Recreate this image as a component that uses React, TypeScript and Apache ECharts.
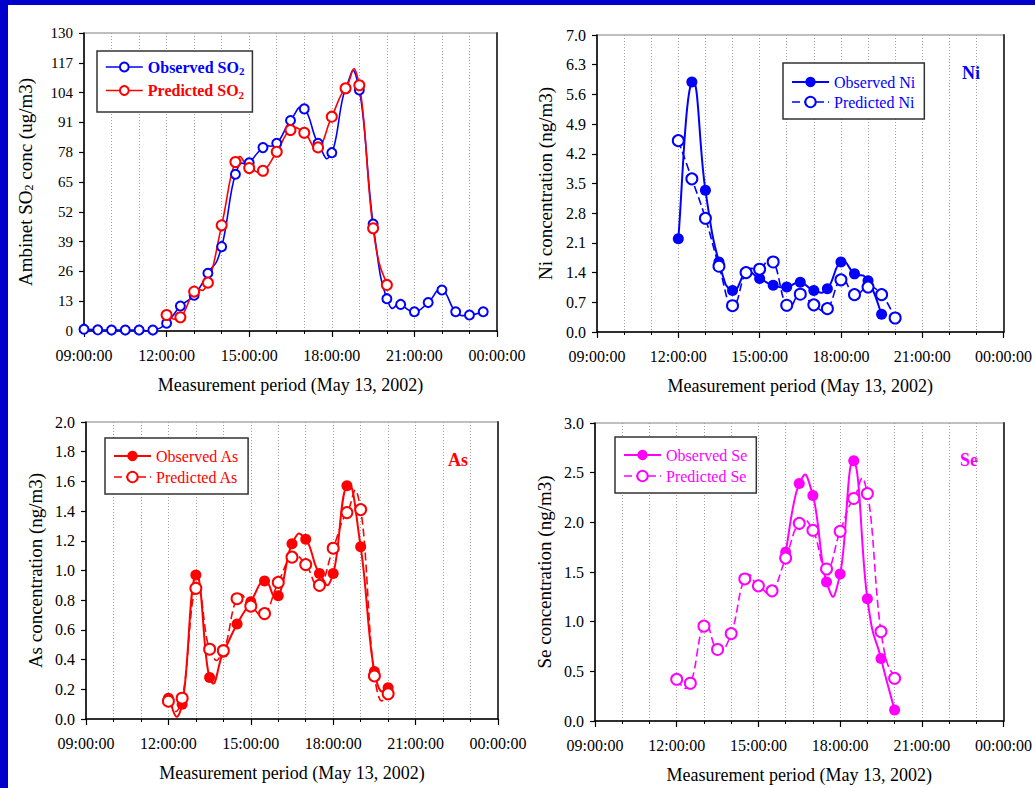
import React, { useEffect, useRef } from "react";
import * as echarts from "echarts";

// ---------- data ----------
const so2Times = [
  "09:00", "09:30", "10:00", "10:30", "11:00", "11:30", "12:00", "12:30", "13:00", "13:30",
  "14:00", "14:30", "15:00", "15:30", "16:00", "16:30", "17:00", "17:30", "18:00", "18:30",
  "19:00", "19:30", "20:00", "20:30", "21:00", "21:30", "22:00", "22:30", "23:00", "23:30",
];
const so2Observed = [
  0.8, 0.5, 0.4, 0.4, 0.4, 0.4, 3.4, 10.9, 15.6, 25.2,
  36.8, 68.4, 73.4, 80.0, 81.9, 91.8, 96.9, 81.9, 77.8, 105.7,
  105.1, 46.7, 14.1, 11.6, 8.4, 12.4, 17.9, 8.4, 7.0, 8.4,
];
const fullTimes = [
  "12:00", "12:30", "13:00", "13:30", "14:00", "14:30", "15:00", "15:30", "16:00",
  "16:30", "17:00", "17:30", "18:00", "18:30", "19:00", "19:30", "20:00",
];
const so2Predicted = [7.0, 6.0, 17.2, 21.1, 46.1, 73.7, 71.1, 69.9, 78.2, 87.7, 86.5, 80.1, 93.5, 105.9, 107.2, 44.8, 20.1];

const niObservedTimes = fullTimes.slice(0, 16);
const niObserved = [2.2, 5.89, 3.34, 1.65, 0.98, 1.39, 1.26, 1.1, 1.06, 1.17, 0.98, 1.02, 1.65, 1.37, 1.21, 0.42];
const niPredicted = [4.51, 3.61, 2.68, 1.55, 0.62, 1.4, 1.48, 1.65, 0.63, 0.89, 0.64, 0.55, 1.23, 0.88, 1.06, 0.88, 0.33];

const asObserved = [0.14, 0.1, 0.97, 0.28, 0.45, 0.64, 0.79, 0.93, 0.83, 1.18, 1.21, 0.98, 0.98, 1.57, 1.16, 0.32, 0.21];
const asPredicted = [0.12, 0.14, 0.88, 0.47, 0.46, 0.81, 0.76, 0.71, 0.92, 1.09, 1.04, 0.9, 1.15, 1.39, 1.41, 0.29, 0.17];

const seObservedTimes = fullTimes.slice(8);
const seObserved = [1.7, 2.39, 2.27, 1.4, 1.48, 2.62, 1.23, 0.63, 0.11];
const sePredicted = [0.42, 0.38, 0.955, 0.72, 0.88, 1.43, 1.36, 1.31, 1.64, 1.99, 1.92, 1.53, 1.91, 2.24, 2.29, 0.9, 0.43];

const xTitle = "Measurement period (May 13, 2002)";

// ---------- helpers ----------
const FONT = '"Liberation Serif", "Times New Roman", Times, serif';
const BLUE = "#0000ff";
const RED = "#ff0000";
const MAGENTA = "#ff00ff";

const toHours = (t: string) => {
  const [h, m] = t.split(":").map(Number);
  return h + m / 60;
};
const pairs = (times: string[], vals: number[]) => vals.map((v, i) => [toHours(times[i]), v]);
const timeLabel = (v: number) => String(Math.round(v) % 24).padStart(2, "0") + ":00:00";

const grids = [
  { left: 84, top: 33, width: 413, height: 298 },
  { left: 597, top: 35, width: 412, height: 297 },
  { left: 86, top: 422, width: 412, height: 297 },
  { left: 595, top: 423, width: 413, height: 298 },
];

const yConf = [
  { max: 130, interval: 13, digits: 0, name: "Ambinet SO{sub|2} conc (ug/m3)", gap: 49, size: 15 },
  { max: 7, interval: 0.7, digits: 1, name: "Ni concentration (ng/m3)", gap: 42, size: 16 },
  { max: 2, interval: 0.2, digits: 1, name: "As concentration (ng/m3)", gap: 41, size: 16 },
  { max: 3, interval: 0.5, digits: 1, name: "Se concentration (ng/m3)", gap: 41, size: 16 },
];

const subRich = {
  sub: { fontSize: 11, verticalAlign: "bottom", padding: [8, 0, 0, 0] },
};

// cardinal spline through pixel points (spreadsheet-style "smoothed line")
const TENSION = 0.25;
function splinePath(pts: number[][]) {
  let d = `M${pts[0][0]},${pts[0][1]}`;
  for (let i = 0; i < pts.length - 1; i++) {
    const p0 = pts[i - 1] || pts[i];
    const p1 = pts[i];
    const p2 = pts[i + 1];
    const p3 = pts[i + 2] || p2;
    const c1x = p1[0] + (p2[0] - p0[0]) * TENSION;
    const c1y = p1[1] + (p2[1] - p0[1]) * TENSION;
    const c2x = p2[0] - (p3[0] - p1[0]) * TENSION;
    const c2y = p2[1] - (p3[1] - p1[1]) * TENSION;
    d += ` C${c1x},${c1y} ${c2x},${c2y} ${p2[0]},${p2[1]}`;
  }
  return d;
}

export default function App() {
  const ref = useRef<HTMLDivElement>(null);

  useEffect(() => {
    if (!ref.current) return;
    const chart = echarts.init(ref.current, undefined, { renderer: "svg" });

    const xAxes = grids.map((_, i) => ({
      type: "value",
      gridIndex: i,
      min: 9,
      max: 24,
      interval: 3,
      name: xTitle,
      nameLocation: "middle",
      nameGap: 45,
      nameTextStyle: { fontFamily: FONT, fontSize: 18, color: "#000" },
      axisLine: { show: true, onZero: false, lineStyle: { color: "#000", width: 1.5 } },
      axisTick: { show: true, inside: false, length: 6, lineStyle: { color: "#000", width: 1.2 } },
      minorTick: { show: true, splitNumber: 3, length: 3, lineStyle: { color: "#000", width: 1 } },
      axisLabel: { formatter: timeLabel, fontFamily: FONT, fontSize: 16, color: "#000", margin: 16 },
      splitLine: { show: true, lineStyle: { type: [1, 2], color: "#a0a0a0", width: 1 } },
      minorSplitLine: { show: true, lineStyle: { type: [1, 2], color: "#a0a0a0", width: 1 } },
    }));

    const yAxes: any[] = yConf.map((c, i) => ({
      type: "value",
      gridIndex: i,
      min: 0,
      max: c.max,
      interval: c.interval,
      name: c.name,
      nameLocation: "middle",
      nameGap: c.gap,
      nameTextStyle: {
        fontFamily: FONT,
        fontSize: 19,
        color: "#000",
        rich: { sub: { fontSize: 12, verticalAlign: "bottom", padding: [8, 0, 0, 0] } },
      },
      axisLine: { show: true, lineStyle: { color: "#000", width: 1.5 } },
      axisTick: { show: true, inside: false, length: 5, lineStyle: { color: "#000", width: 1.2 } },
      axisLabel: {
        formatter: (v: number) => v.toFixed(c.digits),
        fontFamily: FONT,
        fontSize: c.size,
        color: "#000",
        margin: 11,
      },
      splitLine: { show: false },
    }));
    // right-hand frame lines
    yConf.forEach((c, i) => {
      yAxes.push({
        type: "value",
        gridIndex: i,
        position: "right",
        min: 0,
        max: c.max,
        interval: c.interval,
        axisLine: { show: true, lineStyle: { color: "#404040", width: 2 } },
        axisTick: { show: false },
        axisLabel: { show: false },
        splitLine: { show: false },
      });
    });

    type Spec = {
      name: string;
      color: string;
      data: number[][];
      idx: number;
      symbol: string;
      size: number;
      width: number;
      dash: number[] | null;
      border: number;
      z: number;
    };

    const specs: Spec[] = [
      { name: "Observed SO2", color: BLUE, data: pairs(so2Times, so2Observed), idx: 0, symbol: "emptyCircle", size: 9, width: 1.6, dash: null, border: 1.2, z: 3 },
      { name: "Predicted SO2", color: RED, data: pairs(fullTimes, so2Predicted), idx: 0, symbol: "emptyCircle", size: 10, width: 1.6, dash: null, border: 1.2, z: 4 },
      { name: "Observed Ni", color: BLUE, data: pairs(niObservedTimes, niObserved), idx: 1, symbol: "circle", size: 11, width: 2, dash: null, border: 0, z: 3 },
      { name: "Predicted Ni", color: BLUE, data: pairs(fullTimes, niPredicted), idx: 1, symbol: "emptyCircle", size: 11, width: 1.6, dash: [8, 4], border: 1.3, z: 4 },
      { name: "Observed As", color: RED, data: pairs(fullTimes, asObserved), idx: 2, symbol: "circle", size: 11, width: 2, dash: null, border: 0, z: 3 },
      { name: "Predicted As", color: RED, data: pairs(fullTimes, asPredicted), idx: 2, symbol: "emptyCircle", size: 11, width: 1.6, dash: [8, 4], border: 1.3, z: 4 },
      { name: "Observed Se", color: MAGENTA, data: pairs(seObservedTimes, seObserved), idx: 3, symbol: "circle", size: 11, width: 2, dash: null, border: 0, z: 3 },
      { name: "Predicted Se", color: MAGENTA, data: pairs(fullTimes, sePredicted), idx: 3, symbol: "emptyCircle", size: 11, width: 1.6, dash: [8, 4], border: 1.3, z: 4 },
    ];

    const series: any[] = [];
    specs.forEach((s) => {
      // smoothed curve, drawn through the axis scales
      series.push({
        type: "custom",
        name: s.name + " curve",
        xAxisIndex: s.idx,
        yAxisIndex: s.idx,
        data: s.data,
        encode: { x: 0, y: 1 },
        z: 2,
        silent: true,
        renderItem: (params: any, api: any) => {
          if (params.dataIndex !== 0) return null;
          const pts = s.data.map((d) => api.coord(d));
          return {
            type: "path",
            shape: { pathData: splinePath(pts) },
            style: {
              fill: "none",
              stroke: s.color,
              lineWidth: s.width,
              lineDash: s.dash || undefined,
            },
          };
        },
      });
      // markers
      series.push({
        type: "line",
        name: s.name,
        xAxisIndex: s.idx,
        yAxisIndex: s.idx,
        data: s.data,
        symbol: s.symbol,
        symbolSize: s.size,
        color: s.color,
        lineStyle: { width: s.width, color: s.color, type: s.dash || "solid", opacity: 0 },
        itemStyle: { color: s.color, borderWidth: s.border || undefined },
        z: s.z,
      });
    });

    const legendItem = (name: string, color: string) => {
      const s = specs.find((x) => x.name === name)!;
      return {
        name,
        textStyle: { color },
        lineStyle: { opacity: 1, width: s.width, type: s.dash || "solid", color },
      };
    };

    const legendBase = {
      orient: "vertical",
      itemWidth: 37,
      itemHeight: 13,
      borderColor: "#333",
      borderWidth: 1.5,
      backgroundColor: "#fff",
      textStyle: { fontFamily: FONT, fontSize: 16 },
    };

    const legends = [
      {
        ...legendBase,
        left: 97,
        top: 51,
        itemHeight: 11,
        itemGap: 6,
        padding: [8, 8, 12, 8],
        formatter: (n: string) => n.replace("SO2", "SO{sub|2}"),
        textStyle: { fontFamily: FONT, fontSize: 16, fontWeight: "bold", rich: subRich },
        data: [legendItem("Observed SO2", BLUE), legendItem("Predicted SO2", RED)],
      },
      {
        ...legendBase,
        left: 783,
        top: 63,
        itemGap: 4,
        padding: [11, 9, 9, 8],
        data: [legendItem("Observed Ni", BLUE), legendItem("Predicted Ni", BLUE)],
      },
      {
        ...legendBase,
        left: 105,
        top: 438,
        itemGap: 5,
        padding: [10, 9, 9, 8],
        data: [legendItem("Observed As", RED), legendItem("Predicted As", RED)],
      },
      {
        ...legendBase,
        left: 615,
        top: 437,
        itemGap: 5,
        padding: [10, 9, 9, 8],
        data: [legendItem("Observed Se", MAGENTA), legendItem("Predicted Se", MAGENTA)],
      },
    ];

    const tagFont = 'bold 18px "Liberation Serif", "Times New Roman", serif';

    chart.setOption({
      animation: false,
      backgroundColor: "#ffffff",
      grid: grids.map((g) => ({ ...g, show: true, borderColor: "#808080", borderWidth: 1.2, backgroundColor: "transparent" })),
      xAxis: xAxes,
      yAxis: yAxes,
      legend: legends,
      series,
      graphic: [
        { type: "rect", left: 0, top: 0, shape: { width: 8, height: 788 }, style: { fill: "#0000cc" }, z: 100 },
        { type: "rect", left: 0, top: 0, shape: { width: 1035, height: 5 }, style: { fill: "#0000cc" }, z: 100 },
        { type: "text", left: 962, top: 64, style: { text: "Ni", font: tagFont, fill: BLUE } },
        { type: "text", left: 448, top: 451, style: { text: "As", font: tagFont, fill: RED } },
        { type: "text", left: 960, top: 451, style: { text: "Se", font: tagFont, fill: MAGENTA } },
      ],
    });

    return () => chart.dispose();
  }, []);

  return (
    <div
      ref={ref}
      style={{ position: "absolute", left: 0, top: 0, width: 1035, height: 788, background: "#fff" }}
    />
  );
}
